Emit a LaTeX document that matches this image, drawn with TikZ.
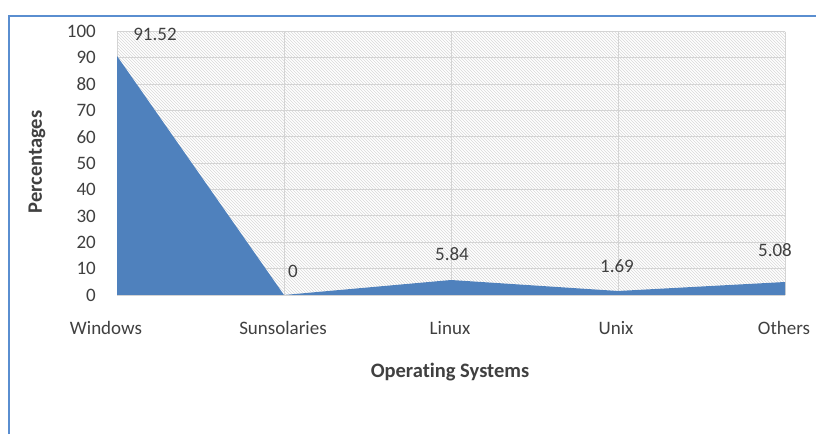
\documentclass[tikz,border=0pt]{standalone}
\usepackage{fontspec}
\setmainfont{Carlito}[Ligatures={NoCommon}]
\usetikzlibrary{patterns}
\definecolor{xlblue}{HTML}{4F81BD}
\definecolor{frameblue}{HTML}{5A8ED0}
\definecolor{gridgray}{HTML}{D4D4D4}
\definecolor{txt}{HTML}{404040}
\begin{document}
\begin{tikzpicture}[x=1pt,y=-1pt,
  lbl/.style={font=\fontsize{19}{21}\selectfont, text=txt, inner sep=0pt},
  ttl/.style={font=\fontsize{20.5}{22}\selectfont\bfseries, text=txt, inner sep=0pt},
  grid/.style={draw=gridgray, line width=1pt}]
\useasboundingbox (0,0) rectangle (816,434);
\fill[white] (0,0) rectangle (816,434);
% outer chart frame
\draw[frameblue, line width=2pt] (9,434) -- (9,15.5) -- (816,15.5);
% plot area
\fill[pattern=north west lines, pattern color=gray!30] (117,31.5) rectangle (785,295);
\foreach \v in {1,...,10} \draw[grid] (117,{295-26.35*\v}) -- (785,{295-26.35*\v});
\foreach \x in {117,284,451,618,785} \draw[grid] (\x,31.5) -- (\x,295);
% area series
\fill[xlblue] (117,295) -- (117,56) -- (284,295) -- (451,280) -- (618,291) -- (785,282) -- (785,295) -- cycle;
\draw[gridgray] (117,295.5) -- (785,295.5);
% y tick labels
\foreach \v in {0,...,10}
  \node[lbl, anchor=east] (t\v) at (96,{295-26.35*\v}) {\the\numexpr\v*10\relax};
% data labels
\node[lbl] (d1) at (155,34) {91.52};
\node[lbl] (d2) at (293,271) {0};
\node[lbl] (d3) at (452,254) {5.84};
\node[lbl] (d4) at (617,266) {1.69};
\node[lbl] (d5) at (775,250) {5.08};
% category labels
\node[lbl] (c1) at (106,328) {Windows};
\node[lbl] (c2) at (283,328) {Sunsolaries};
\node[lbl] (c3) at (450,328) {Linux};
\node[lbl] (c4) at (616,328) {Unix};
\node[lbl] (c5) at (784,328) {Others};
% axis titles
\node[ttl] (xt) at (450,372) {Operating Systems};
\node[ttl, rotate=90] (yt) at (37,162) {Percentages};
\end{tikzpicture}
\end{document}
